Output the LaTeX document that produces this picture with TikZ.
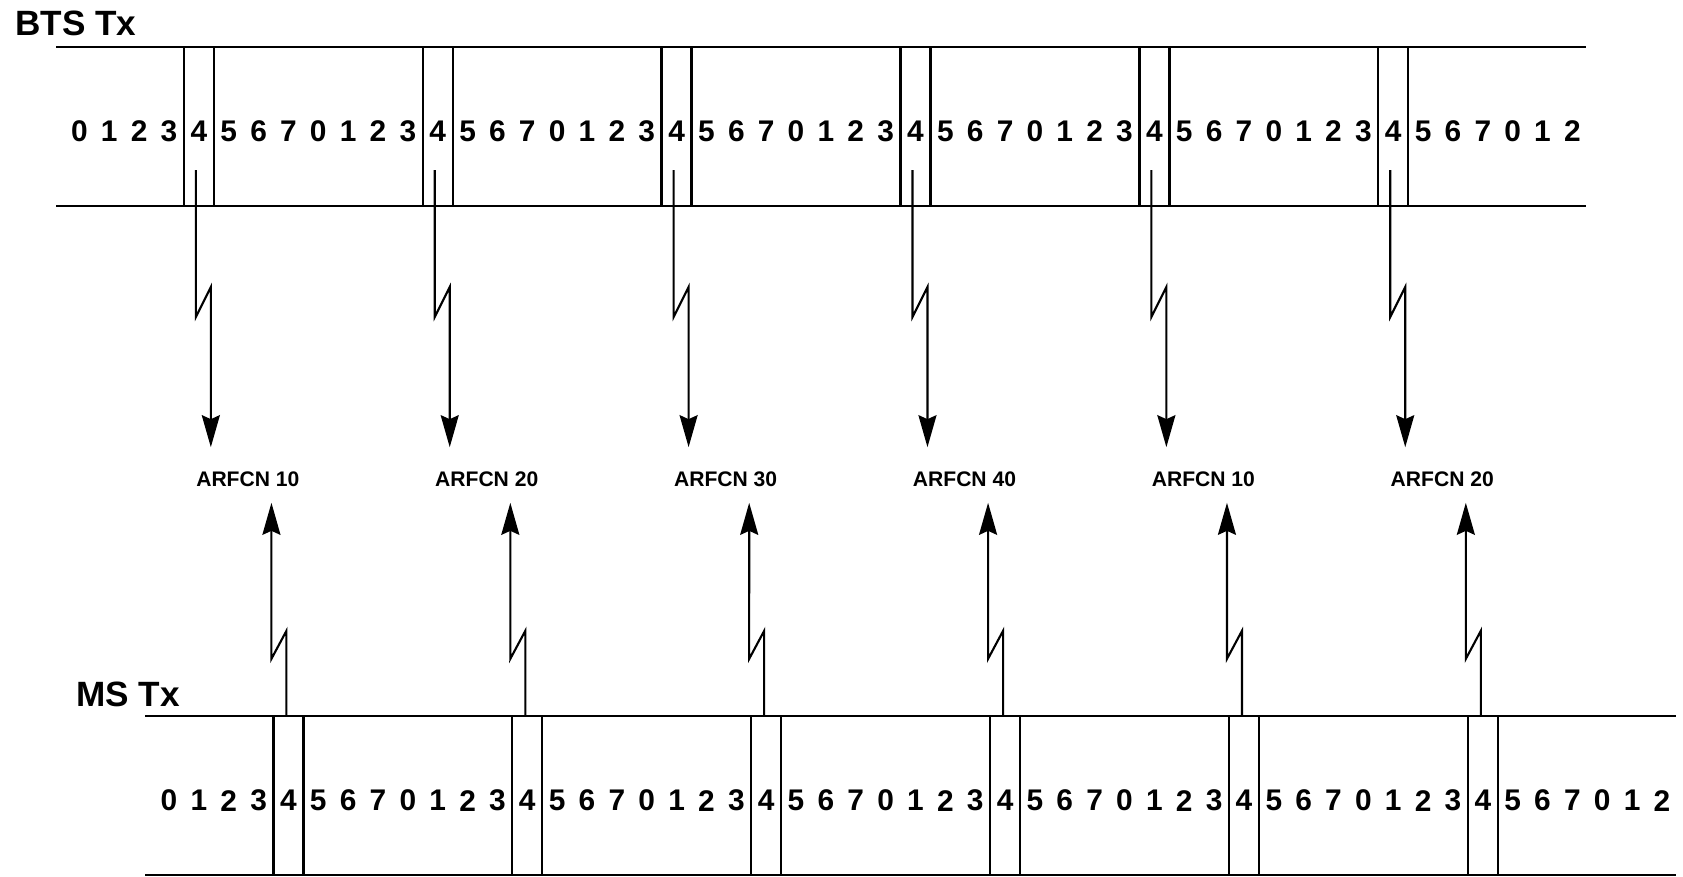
\documentclass[tikz,border=0pt]{standalone}
\usepackage{fontspec}
\setmainfont{Liberation Sans}
\usetikzlibrary{arrows.meta, positioning, calc}

\begin{document}
\begin{tikzpicture}[
  x=0.2mm, y=-0.2mm,
  frameline/.style={line width=1.3pt},
  slotbox/.style={draw, line width=1.3pt, minimum width=6mm, minimum height=31.8mm, inner sep=0pt},
  slotnum/.style={font=\fontsize{17}{17}\selectfont\bfseries, inner sep=0pt},
  title/.style={font=\fontsize{20}{20}\selectfont\bfseries, anchor=west, inner sep=0pt},
  chan/.style={font=\fontsize{12}{12}\selectfont\bfseries, inner sep=0pt},
  radio/.style={-{Stealth[length=6.4mm, width=3.6mm, inset=0.8mm]}, line width=1.2pt}
]
  \def\slot{29.86}
  \def\xz{79.4}
  \useasboundingbox (0,0) rectangle (1683,877);

  % titles
  \node[title] (bts) at (15,23) {BTS Tx};
  \node[title] (ms) at (76,694) {MS Tx};

  % frame strips
  \draw[frameline] (56,47) -- (1586,47);
  \draw[frameline] (56,206) -- (1586,206);
  \draw[frameline] (145,716) -- (1676,716);
  \draw[frameline] (145,875) -- (1676,875);

  % timeslot numbers, MS delayed by 3 slots
  \foreach \i in {0,...,50} {
    \pgfmathtruncatemacro\ts{mod(\i,8)}
    \node[slotnum] (b\i) at (\xz+\i*\slot,131) {\ts};
    \node[slotnum] (m\i) at (\xz+\i*\slot+3*\slot,800.7) {\ts};
  }

  % slot 4 of each frame, hopping channels
  \foreach \k/\ch in {0/10,1/20,2/30,3/40,4/10,5/20} {
    \pgfmathsetmacro\cx{\xz+(4+8*\k)*\slot}
    \node[slotbox] (bts\k) at (\cx,126.5) {};
    \node[slotbox] (ms\k) at (\cx+3*\slot,795.5) {};
    \node[chan] (arfcn\k) at (\cx+49,479) {ARFCN \ch};
    \coordinate (dn\k) at ($(arfcn\k.north)+(-37,-24)$);
    \coordinate (up\k) at ($(arfcn\k.south)+(23.6,16)$);
    \draw[radio] ($(bts\k.center)+(-3,43.5)$) -- ++(0,147) -- ++(15,-30) -- (dn\k);
    \draw[radio] ($(ms\k.north)+(-2,0)$) -- ++(0,-84) -- ++(-15,28) -- (up\k);
  }
\end{tikzpicture}
\end{document}
